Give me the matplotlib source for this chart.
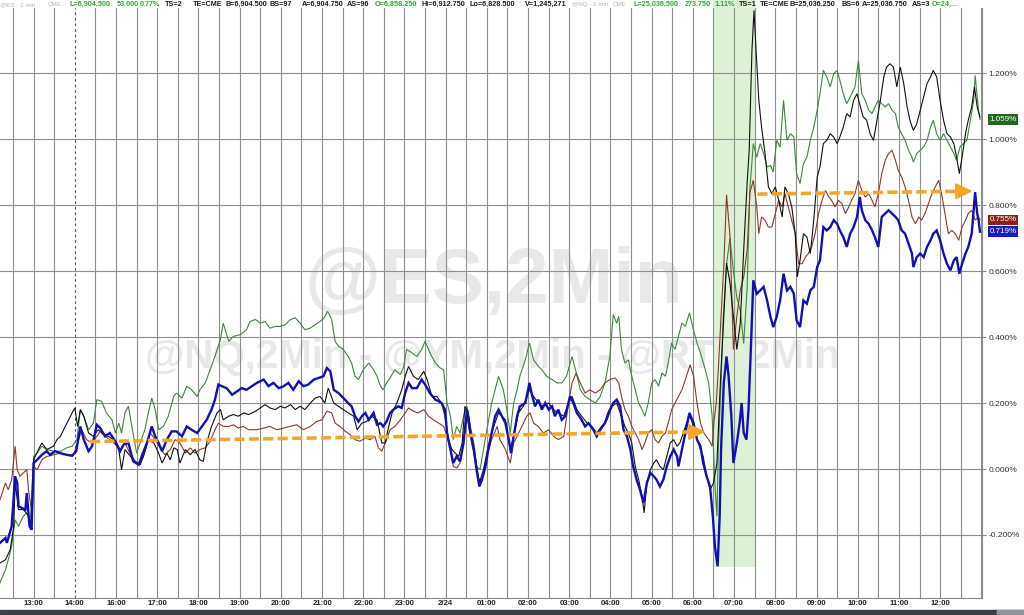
import matplotlib
matplotlib.use('Agg')
import matplotlib.pyplot as plt
import matplotlib.transforms as mtransforms
from matplotlib.patches import Rectangle

plt.rcParams['font.family'] = ['Liberation Sans', 'DejaVu Sans']

# ---------------- data: (minutes from 13:00 on the session axis, % change) ----------------
es = [(-49,-0.224),(-41,-0.209),(-39,-0.224),(-32,-0.174),(-27,-0.022),(-24,-0.042),(-22,-0.113),(-17,-0.118),(-12,-0.123),(-10,-0.073),
      (-6,-0.174),(-3,-0.184),(0,0.018),(5,0.028),(12,0.043),(19,0.054),(24,0.043),(31,0.054),(39,0.048),(48,0.043),
      (56,0.040),(62,0.054),(68,0.129),(73,0.089),(80,0.054),(85,0.069),(92,0.134),(97,0.124),(104,0.099),(111,0.109),
      (119,0.084),(126,0.054),(131,0.074),(138,0.079),(145,0.023),(153,0.013),(158,0.043),(165,0.079),(172,0.129),(177,0.099),
      (182,0.079),(187,0.054),(194,0.089),(201,0.114),(208,0.114),(216,0.099),(223,0.129),(230,0.119),(238,0.109),(245,0.129),
      (252,0.149),(259,0.180),(264,0.210),(269,0.256),(274,0.251),(281,0.245),(289,0.225),(296,0.235),(303,0.245),(310,0.240),
      (325,0.261),(335,0.271),(342,0.251),(349,0.261),(357,0.245),(364,0.251),(371,0.261),(378,0.240),(386,0.266),(393,0.251),
      (400,0.256),(408,0.271),(415,0.276),(422,0.281),(427,0.306),(432,0.296),(437,0.240),(444,0.230),(451,0.215),(458,0.200),
      (463,0.190),(468,0.160),(473,0.144),(478,0.160),(483,0.170),(488,0.149),(495,0.170),(500,0.134),(505,0.139),(509,0.129),
      (514,0.144),(519,0.170),(524,0.180),(531,0.190),(536,0.185),(541,0.230),(546,0.261),(551,0.245),(558,0.245),(565,0.271),
      (570,0.256),(577,0.230),(585,0.210),(590,0.205),(594,0.200),(599,0.180),(602,0.109),(607,0.059),(611,0.018),(616,0.038),
      (621,0.023),(626,0.079),(631,0.180),(636,0.109),(641,0.059),(645,-0.002),(649,-0.053),(653,-0.032),(658,0.008),(662,0.059),
      (667,0.109),(672,0.160),(677,0.180),
      (687,0.139),(692,0.089),(695,0.048),(699,0.099),(704,0.160),(708,0.190),(716,0.200),(722,0.261),(725,0.230),(730,0.190),
      (735,0.210),(740,0.180),(745,0.200),(750,0.180),(755,0.190),(759,0.160),(764,0.180),(769,0.149),(774,0.160),(781,0.220),
      (786,0.200),(791,0.170),(798,0.149),(803,0.129),(808,0.139),(815,0.119),(820,0.099),(825,0.119),(832,0.139),(837,0.170),
      (844,0.200),(849,0.210),(854,0.190),(859,0.119),(864,0.099),(869,0.059),(873,0.008),(878,-0.032),(883,-0.063),(888,-0.103),
      (893,-0.042),(898,-0.012),(903,-0.022),(907,-0.032),(912,-0.053),(917,-0.032),(922,0.008),(927,0.038),(932,0.059),(937,0.038),
      (939,0.008),(944,0.059),(949,0.109),(955,0.170),(961,0.139),(966,0.089),(971,0.069),(975,0.018),(980,-0.022),(985,-0.053),
      (989,-0.143),(992,-0.234),(996,-0.295),(999,-0.143),(1001,0.059),(1005,0.261),(1009,0.341),(1012,0.281),(1016,0.160),(1019,0.018),
      (1024,0.079),(1028,0.139),(1031,0.200),(1034,0.109),(1038,0.089),(1041,0.180),(1044,0.341),
      (1048,0.572),(1053,0.531),(1058,0.541),(1063,0.552),(1068,0.511),(1073,0.461),(1077,0.430),(1082,0.461),(1087,0.511),(1092,0.592),
      (1097,0.541),(1102,0.552),(1107,0.531),(1111,0.451),(1116,0.430),(1121,0.511),(1126,0.501),(1131,0.541),(1136,0.552),(1141,0.612),
      (1145,0.632),(1150,0.733),(1155,0.723),(1160,0.733),(1165,0.754),(1170,0.743),(1174,0.723),(1179,0.703),(1184,0.673),(1189,0.713),
      (1194,0.733),(1199,0.764),(1203,0.824),(1206,0.784),(1211,0.754),(1216,0.743),(1221,0.723),(1225,0.703),(1230,0.673),(1235,0.764),
      (1240,0.774),(1245,0.784),(1250,0.774),(1255,0.764),(1259,0.754),(1264,0.723),(1269,0.713),(1274,0.683),(1279,0.653),(1281,0.612),
      (1286,0.642),(1291,0.653),(1296,0.642),(1301,0.673),(1306,0.693),(1310,0.713),(1315,0.723),(1320,0.693),(1325,0.653),(1330,0.622),
      (1335,0.602),(1340,0.632),(1344,0.642),(1348,0.592),(1352,0.622),(1357,0.653),(1361,0.673),(1366,0.713),(1371,0.839),(1374,0.774),
      (1376,0.754),(1378,0.719)]

nq = [(-49,-0.345),(-41,-0.305),(-37,-0.275),(-32,-0.234),(-27,-0.154),(-22,-0.174),(-20,-0.164),(-15,-0.143),(-10,-0.133),(-5,-0.164),
      (0,0.038),(5,0.048),(12,0.069),(19,0.059),(29,0.054),(39,0.054),(48,0.064),(56,0.069),(63,0.089),(68,0.180),
      (73,0.160),(80,0.119),(87,0.139),(92,0.210),(99,0.205),(106,0.170),(114,0.149),(119,0.109),(124,0.139),(128,0.109),
      (133,0.170),(138,0.190),(143,0.129),(150,0.048),(155,0.079),(162,0.119),(167,0.170),(172,0.215),(177,0.180),(182,0.119),
      (189,0.129),(196,0.160),(204,0.220),(208,0.230),(216,0.215),(223,0.251),(230,0.240),(238,0.220),(242,0.240),(250,0.261),
      (257,0.301),(264,0.341),(272,0.392),(276,0.442),(284,0.387),(291,0.402),(301,0.407),(310,0.422),
      (315,0.447),(323,0.453),(330,0.442),(337,0.447),(344,0.427),(352,0.432),(359,0.432),(366,0.437),(374,0.453),(381,0.458),
      (388,0.442),(395,0.422),(403,0.427),(410,0.437),(417,0.447),(423,0.458),(428,0.478),(434,0.453),(439,0.387),(444,0.372),
      (451,0.362),(458,0.341),(463,0.321),(468,0.281),(473,0.271),(480,0.301),(488,0.321),(495,0.301),(500,0.281),(505,0.251),
      (509,0.240),(514,0.261),(519,0.276),(526,0.301),(534,0.286),(539,0.311),(543,0.362),(551,0.352),(558,0.341),(565,0.362),
      (570,0.387),(577,0.352),(585,0.321),(592,0.306),(597,0.301),(602,0.200),(607,0.160),(611,0.089),(616,0.129),(621,0.109),
      (626,0.160),(631,0.190),(636,0.129),(641,0.079),(645,0.008),(650,-0.002),(655,0.059),(660,0.119),(667,0.200),(672,0.240),
      (677,0.281),
      (684,0.240),(689,0.180),(694,0.109),(699,0.200),(704,0.240),(708,0.281),(716,0.331),(722,0.382),(728,0.331),(735,0.311),
      (740,0.301),(747,0.281),(755,0.271),(762,0.261),(769,0.261),(776,0.281),(784,0.341),(789,0.301),(796,0.240),(803,0.220),
      (810,0.210),(818,0.200),(825,0.220),(832,0.261),(839,0.341),(844,0.468),(849,0.442),(852,0.463),(856,0.362),(861,0.321),
      (866,0.331),(871,0.281),(876,0.240),(881,0.200),(886,0.180),(890,0.160),(895,0.200),(900,0.261),(905,0.271),(910,0.251),
      (915,0.291),(920,0.281),(924,0.321),(929,0.382),(934,0.362),(939,0.402),(944,0.442),(949,0.432),(955,0.473),(961,0.420),
      (966,0.382),(971,0.352),(978,0.301),(983,0.261),(988,0.160),(992,-0.042),(995,-0.143),(997,0.059),(1001,0.261),(1004,0.450),
      (1009,0.620),(1014,0.700),(1019,0.600),(1024,0.520),(1029,0.480),(1034,0.380),(1039,0.550),(1043,0.850),
      (1048,0.986),(1053,0.945),(1058,0.986),(1063,0.956),(1068,0.915),(1073,0.920),(1077,0.900),(1082,0.996),(1087,0.976),(1092,1.117),
      (1097,0.996),(1102,1.016),(1107,1.006),(1111,0.895),(1116,0.865),(1121,0.925),(1126,0.945),(1131,0.996),(1136,1.036),(1141,1.087),
      (1145,1.137),(1150,1.208),(1155,1.188),(1160,1.158),(1165,1.198),(1170,1.208),(1174,1.178),(1179,1.137),(1184,1.107),(1189,1.127),
      (1196,1.158),(1201,1.238),(1206,1.137),(1211,1.117),(1216,1.087),(1221,1.077),(1225,1.097),(1230,1.117),(1235,1.107),(1240,1.097),
      (1245,1.107),(1250,1.087),(1255,1.077),(1259,1.036),(1264,1.016),(1269,0.996),(1274,0.966),(1279,0.945),(1281,0.930),(1286,0.956),
      (1291,0.966),(1296,0.976),(1301,0.996),(1306,1.036),(1310,1.057),(1315,1.016),(1320,0.996),(1325,1.016),(1330,0.996),(1335,0.976),
      (1340,0.956),(1344,0.935),(1349,0.976),(1354,0.986),(1359,0.996),(1364,1.057),(1369,1.117),(1371,1.193),(1374,1.127),(1376,1.087),
      (1378,1.059)]

ym = [(-49,-0.093),(-41,-0.042),(-37,-0.063),(-32,-0.032),(-27,0.069),(-24,-0.002),(-20,-0.022),(-15,-0.012),(-10,-0.002),(-7,-0.073),
      (-3,-0.123),(0,0.008),(5,-0.002),(12,0.028),(19,0.038),(29,0.043),(39,0.048),(48,0.043),(58,0.043),(64,0.079),
      (70,0.119),(77,0.089),(85,0.079),(92,0.099),(97,0.114),(104,0.099),(111,0.089),(119,0.074),(126,0.059),(133,0.079),
      (140,0.048),(148,0.023),(155,0.013),(162,0.054),(170,0.109),(177,0.089),(184,0.064),(191,0.043),(199,0.059),(206,0.089),
      (213,0.079),(221,0.048),(228,0.064),(235,0.048),(242,0.059),(250,0.064),(257,0.084),(264,0.119),(269,0.139),(276,0.129),
      (284,0.129),(291,0.134),(298,0.124),(305,0.129),(313,0.119),
      (325,0.119),(335,0.124),(344,0.129),(354,0.119),(364,0.124),(373,0.129),(383,0.134),(393,0.119),(403,0.129),(412,0.144),
      (420,0.149),(427,0.175),(434,0.170),(439,0.139),(446,0.129),(454,0.114),(461,0.104),(468,0.089),(475,0.084),(483,0.094),
      (490,0.089),(497,0.099),(502,0.064),(507,0.054),(512,0.079),(519,0.119),(526,0.129),(534,0.149),(541,0.170),(546,0.185),
      (553,0.175),(560,0.170),(568,0.180),(575,0.160),(582,0.149),(590,0.139),(597,0.129),(602,0.099),(607,0.059),(611,0.008),
      (616,0.003),(621,0.018),(626,0.079),(631,0.160),(636,0.099),(641,0.048),(645,-0.002),(650,-0.042),(655,-0.017),(660,0.038),
      (667,0.089),(675,0.129),
      (679,0.089),(687,0.059),(694,0.018),(699,0.079),(704,0.099),(711,0.129),(718,0.160),(723,0.170),(728,0.139),(735,0.129),
      (742,0.109),(750,0.119),(757,0.099),(764,0.089),(772,0.099),(779,0.200),(784,0.261),(790,0.291),(796,0.261),(803,0.230),
      (810,0.240),(818,0.230),(825,0.240),(832,0.261),(839,0.271),(847,0.276),(852,0.261),(856,0.220),(861,0.180),(866,0.160),
      (871,0.129),(876,0.109),(881,0.089),(886,0.059),(890,0.079),(895,0.109),(900,0.119),(905,0.089),(910,0.079),(915,0.099),
      (920,0.109),(924,0.139),(929,0.180),(934,0.200),(939,0.220),(944,0.240),(949,0.271),(956,0.316),(961,0.281),(966,0.200),
      (971,0.139),(976,0.109),(983,0.089),(988,0.069),(991,0.150),(994,0.200),(997,0.300),(1001,0.463),(1005,0.614),(1009,0.831),
      (1014,0.705),(1019,0.362),(1024,0.463),(1029,0.542),(1034,0.582),(1039,0.665),(1043,0.837),
      (1048,0.875),(1053,0.794),(1056,0.713),(1060,0.764),(1065,0.754),(1070,0.733),(1075,0.733),(1080,0.774),(1085,0.814),(1090,0.794),
      (1094,0.834),(1099,0.794),(1104,0.754),(1109,0.713),(1114,0.622),(1119,0.622),(1124,0.642),(1128,0.653),(1133,0.673),(1138,0.713),
      (1143,0.774),(1148,0.814),(1153,0.844),(1158,0.824),(1162,0.814),(1167,0.794),(1172,0.814),(1177,0.804),(1182,0.774),(1187,0.794),
      (1191,0.814),(1196,0.834),(1201,0.875),(1206,0.844),(1211,0.824),(1216,0.834),(1221,0.814),(1225,0.794),(1230,0.834),(1235,0.895),
      (1240,0.935),(1245,0.956),(1250,0.966),(1255,0.935),(1259,0.905),(1264,0.885),(1269,0.855),(1274,0.814),(1279,0.764),(1284,0.743),
      (1289,0.764),(1293,0.754),(1298,0.774),(1303,0.804),(1308,0.834),(1313,0.855),(1318,0.875),(1323,0.824),(1327,0.774),(1332,0.713),
      (1337,0.723),(1342,0.713),(1347,0.693),(1352,0.733),(1357,0.754),(1361,0.774),(1366,0.784),(1371,0.754),(1376,0.764),(1378,0.755)]

rty = [(-49,-0.285),(-41,-0.275),(-34,-0.244),(-29,-0.174),(-27,-0.042),(-22,-0.123),(-15,-0.123),(-7,-0.143),(-3,-0.174),(0,0.028),
       (7,0.059),(12,0.079),(19,0.059),(29,0.069),(34,0.089),(39,0.099),(46,0.129),(51,0.149),(56,0.170),(60,0.185),
       (64,0.129),(68,0.180),(73,0.160),(80,0.109),(87,0.099),(94,0.119),(102,0.104),(109,0.099),(116,0.089),(124,0.059),
       (128,-0.002),(133,0.059),(141,0.038),(148,0.023),(155,0.013),(160,0.038),(167,0.089),(175,0.079),(182,0.048),(187,0.018),
       (194,0.048),(199,0.028),(204,0.064),(209,0.059),(213,0.018),(221,0.059),(228,0.043),(235,0.059),(242,0.028),(247,0.023),
       (252,0.079),(259,0.129),(267,0.170),(272,0.180),(276,0.149),(284,0.160),(291,0.165),(298,0.160),(306,0.170),(313,0.165),
       (323,0.175),(330,0.185),(337,0.195),(344,0.185),(352,0.180),(359,0.190),(366,0.185),(374,0.195),(381,0.180),(388,0.190),
       (395,0.180),(403,0.200),(410,0.215),(417,0.220),(424,0.200),(429,0.245),(437,0.200),(444,0.190),(451,0.180),(458,0.170),
       (466,0.160),(471,0.119),(478,0.139),(485,0.144),(492,0.160),(500,0.149),(507,0.079),(512,0.079),(517,0.129),(522,0.170),
       (529,0.200),(536,0.240),(541,0.281),(546,0.311),(553,0.281),(560,0.271),(568,0.296),(573,0.271),(580,0.220),(587,0.220),
       (594,0.200),(599,0.160),(604,0.089),(609,0.059),(614,0.048),(619,0.038),(624,0.079),(628,0.190),(633,0.170),(638,0.089),
       (643,0.038),(649,-0.042),(655,-0.002),(662,0.069),(670,0.129),(677,0.170),
       (687,0.149),(694,0.059),(699,0.099),(706,0.170),(713,0.190),(722,0.240),(728,0.220),(735,0.200),(742,0.190),(750,0.200),
       (757,0.180),(764,0.170),(772,0.160),(779,0.200),(784,0.220),(791,0.180),(798,0.160),(806,0.139),(813,0.129),(820,0.109),
       (827,0.129),(835,0.149),(842,0.190),(849,0.200),(856,0.160),(861,0.129),(866,0.109),(871,0.079),(876,0.008),(881,-0.032),
       (886,-0.083),(889,-0.133),(893,-0.042),(898,-0.002),(903,0.018),(907,0.028),(912,0.008),(917,-0.002),(922,0.038),(927,0.079),
       (932,0.089),(937,0.069),(941,0.079),(946,0.109),(954,0.160),(958,0.149),(963,0.109),(971,0.059),(975,0.038),(980,-0.022),
       (985,-0.063),(990,-0.042),(995,0.018),(1000,0.261),(1005,0.463),(1009,0.624),(1014,0.564),(1019,0.463),(1024,0.362),(1029,0.442),
       (1034,0.665),(1039,0.867),(1042,0.966),
       (1046,1.269),(1049,1.390),(1052,1.269),(1056,1.117),(1060,1.036),(1065,0.956),(1070,0.855),(1075,0.834),(1080,0.855),(1085,0.814),
       (1090,0.764),(1094,0.855),(1099,0.834),(1104,0.794),(1109,0.713),(1112,0.582),(1116,0.632),(1121,0.713),(1126,0.703),(1131,0.653),
       (1136,0.754),(1141,0.885),(1145,0.915),(1150,0.986),(1155,0.996),(1160,1.016),(1165,1.006),(1170,0.986),(1174,1.006),(1179,1.036),
       (1184,1.077),(1189,1.067),(1194,1.117),(1199,1.137),(1204,1.097),(1208,1.067),(1213,1.057),(1218,1.016),(1223,0.996),(1228,1.057),
       (1233,1.117),(1238,1.188),(1242,1.218),(1247,1.228),(1252,1.218),(1257,1.158),(1262,1.218),(1267,1.168),(1272,1.097),(1276,1.057),
       (1281,1.026),(1286,1.046),(1291,1.087),(1296,1.127),(1301,1.168),(1306,1.188),(1310,1.208),(1315,1.188),(1320,1.117),(1325,1.057),
       (1330,1.016),(1335,1.006),(1340,0.986),(1344,0.945),(1348,0.895),(1352,0.945),(1357,1.016),(1361,1.057),(1366,1.097),(1370,1.158),
       (1374,1.097),(1378,1.067)]

tick_minutes = [0, 60, 120, 180, 240, 300, 360, 420, 480, 540, 600, 660, 720, 780, 840,
                900, 960, 1020, 1080, 1140, 1200, 1260, 1320]
tick_labels = ['13:00', '14:00', '16:00', '17:00', '18:00', '19:00', '20:00', '21:00', '22:00',
               '23:00', '2/24', '01:00', '02:00', '03:00', '04:00', '05:00', '06:00', '07:00',
               '08:00', '09:00', '10:00', '11:00', '12:00']
y_ticks = [-0.2, 0.0, 0.2, 0.4, 0.6, 0.8, 1.0, 1.2]
last_labels = [('1.059%', 1.059, '#1d6a1d'), ('0.755%', 0.755, '#8e1f16'), ('0.719%', 0.719, '#1b1bc4')]
session_break = 60          # 14:00 dashed line
highlight = (990, 1050, -0.297)   # 06:30 - 07:30 shaded window
arrow1 = ((82, 0.083), (978, 0.113))
arrow2 = ((1054, 0.833), (1367, 0.842))

# ---------------- figure ----------------
W, H = 1024, 615
fig = plt.figure(figsize=(W / 100, H / 100), dpi=100)
ax_bottom = 1 - 597.5 / H
ax = fig.add_axes([0, ax_bottom, 982 / W, (597.5 - 8) / H])
xmin, xmax = -49, 1381
ymin, ymax = -0.3894, 1.397
ax.set_xlim(xmin, xmax)
ax.set_ylim(ymin, ymax)

grid_c = '#8f8f8f'
half_hours = [m for m in range(-30, 1381, 30) if m != session_break]
for m in half_hours:
    ax.axvline(m, color=grid_c, lw=0.8, zorder=1.5)
for yv in y_ticks:
    ax.axhline(yv, color=grid_c, lw=0.8, zorder=1.5)
ax.axvline(session_break, color='#555555', lw=0.8, ls=(0, (2.5, 2.5)), zorder=1.5)

# shaded window (extends into the header strip)
frac = (highlight[2] - ymin) / (ymax - ymin)
ax.axvspan(highlight[0], highlight[1], ymin=frac, ymax=1.014, color='#dcf1d5',
           zorder=0.4, clip_on=False, lw=0)

# watermarks
ax.text(494 / W, 1 - 303 / H, '@ES,2Min', transform=fig.transFigure, fontsize=56,
        fontweight='bold', color='#e8e8e8', ha='center', va='baseline', zorder=0.5)
ax.text(492 / W, 1 - 368 / H, '@NQ,2Min - @YM,2Min - @RTY,2Min', transform=fig.transFigure,
        fontsize=29, fontweight='bold', color='#e8e8e8', ha='center', va='baseline', zorder=0.5)

def xy(series):
    return [p[0] for p in series], [p[1] for p in series]

for series, color, lw, z in [(nq, '#3a8a3a', 0.8, 3), (ym, '#8a3a2c', 0.8, 3.1),
                             (rty, '#111111', 0.8, 3.2), (es, '#1010b4', 1.7, 3.5)]:
    t, v = xy(series)
    ax.plot(t, v, color=color, lw=lw, zorder=z, solid_joinstyle='miter')

# orange dashed arrows
orange = '#f5a52a'
for (p0, p1) in (arrow1, arrow2):
    base_t = p1[0] - 8
    base_v = p0[1] + (p1[1] - p0[1]) * (base_t - p0[0]) / (p1[0] - p0[0])
    ax.plot([p0[0], base_t], [p0[1], base_v], color=orange, lw=2.6,
            ls=(0, (2.8, 1.2)), dash_capstyle='butt', zorder=4)
    ax.annotate('', xy=p1, xytext=(base_t - 2, base_v),
                arrowprops=dict(arrowstyle='-|>,head_length=1.0,head_width=0.5',
                                color=orange, lw=1.5, shrinkA=0, shrinkB=0), zorder=4)

# axes styling
for s in ('left', 'top'):
    ax.spines[s].set_visible(False)
for s in ('right', 'bottom'):
    ax.spines[s].set_color('#8a8a8a')
    ax.spines[s].set_linewidth(0.8)
ax.set_facecolor('white')

ax.set_xticks(tick_minutes)
ax.set_xticklabels(tick_labels, fontsize=5.6, fontweight='bold', color='#222222')
ax.tick_params(axis='x', length=0, pad=2)
ax.yaxis.tick_right()
ax.set_yticks(y_ticks)
ax.set_yticklabels(['%.3f%%' % v for v in y_ticks], fontsize=6, color='#333333')
ax.tick_params(axis='y', length=3, width=0.8, color='#8a8a8a', pad=1.5)

# last value tags
trans = mtransforms.blended_transform_factory(ax.transAxes, ax.transData)
for txt, val, col in last_labels:
    ax.text(1.0075, val, txt, transform=trans, fontsize=5.8, color='white',
            ha='left', va='center', clip_on=False, zorder=6,
            bbox=dict(boxstyle='square,pad=0.22', fc=col, ec='none'))

# header strip
g_c, k_c, gr_c = '#35a335', '#1c1c1c', '#b5b5b5'
header = [(0, '@ES - 2 min', gr_c), (48, 'CME', gr_c), (69, 'L=6,904.500', g_c), (117, '53.000', g_c),
          (140, '0.77%', g_c), (165, 'TS=2', k_c), (193, 'TE=CME', k_c), (225, 'B=6,904.500', k_c),
          (270, 'BS=97', k_c), (302, 'A=6,904.750', k_c), (347, 'AS=96', k_c), (375, 'O=6,858.250', g_c),
          (422, 'Hi=6,912.750', k_c), (470, 'Lo=6,828.500', k_c), (525, 'V=1,245,271', k_c),
          (572, '@NQ - 2 min', gr_c), (613, 'CME', gr_c), (634, 'L=25,036.500', g_c), (685, '273.750', g_c),
          (714, '1.11%', g_c), (739, 'TS=1', k_c), (760, 'TE=CME', k_c), (790, 'B=25,036.250', k_c),
          (842, 'BS=6', k_c), (862, 'A=25,036.750', k_c), (912, 'AS=3', k_c), (932, 'O=24,...', g_c)]
for xp, txt, col in header:
    fs = 4.5 if col == gr_c else 5.2
    fig.text(xp / W, 1 - 4.5 / H, txt, fontsize=fs, color=col, ha='left', va='center',
             fontweight='bold' if col != gr_c else 'normal')

# bottom status bar
fig.patches.append(Rectangle((0, 0), 1, 5 / H, transform=fig.transFigure, color='#3b4048', zorder=0))
fig.patches.append(Rectangle((997 / W, 0), 27 / W, 5 / H, transform=fig.transFigure, color='#8d939b', zorder=0))

fig.savefig('out.png', dpi=100, facecolor='white')
